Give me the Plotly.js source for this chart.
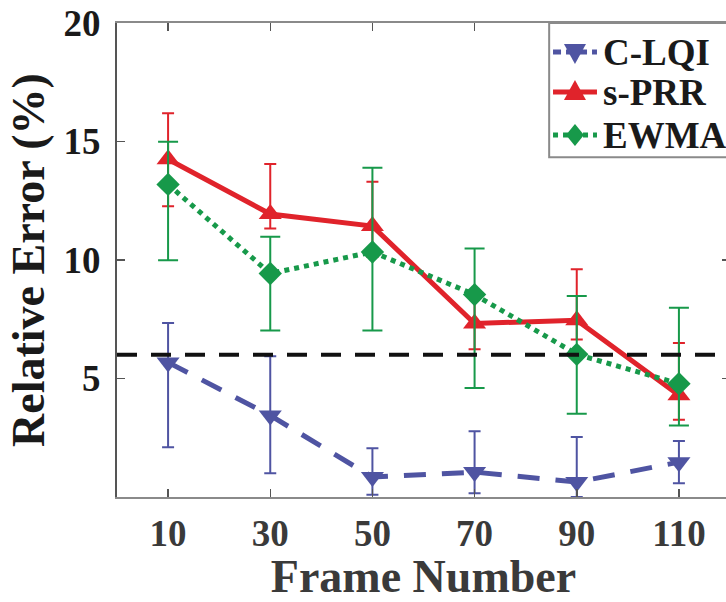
<!DOCTYPE html>
<html>
<head>
<meta charset="utf-8">
<script src="https://cdn.plot.ly/plotly-3.0.1.min.js"></script>
<style>
html,body{margin:0;padding:0;overflow:hidden;background:#fff;}
#chart{width:730px;height:602px;}
</style>
</head>
<body>
<div id="chart"></div>
<script>
// Data
const frames = [10, 30, 50, 70, 90, 110];
const tickLabels = ['10', '30', '50', '70', '90', '110'];
const seriesNames = ['C-LQI', 's-PRR', 'EWMA'];

const clqiMean = [5.68, 3.44, 0.84, 1.05, 0.63, 1.47];
const clqiUpper = [7.34, 5.94, 2.06, 2.77, 2.53, 2.36];
const clqiLower = [2.10, 1.00, 0.09, 0.16, 0.00, 0.58];

const sprrMean = [14.25, 11.94, 11.43, 7.32, 7.46, 4.29];
const sprrUpper = [16.19, 14.05, 13.30, 8.65, 9.61, 6.50];
const sprrLower = [12.27, 11.33, 10.13, 6.23, 6.65, 3.26];

const ewmaMean = [13.19, 9.43, 10.34, 8.54, 6.02, 4.78];
const ewmaUpper = [14.99, 10.98, 13.89, 10.49, 8.48, 7.99];
const ewmaLower = [9.99, 7.03, 7.03, 4.60, 3.51, 3.02];

const threshold = 6;

function plus(u, m) { return u.map((v, i) => v - m[i]); }
function minus(l, m) { return l.map((v, i) => m[i] - v); }

const FONT = 'Liberation Serif, Times New Roman, serif';
const BLUE = '#4f54a2', RED = '#e0232b', GREEN = '#17994a';

const traces = [
  {
    name: seriesNames[0], x: frames, y: clqiMean, type: 'scatter', mode: 'lines+markers',
    line: {color: BLUE, width: 5, dash: '22px,16px'},
    marker: {symbol: 'triangle-down', size: 20, color: BLUE},
    error_y: {type: 'data', symmetric: false, array: plus(clqiUpper, clqiMean),
              arrayminus: minus(clqiLower, clqiMean), color: BLUE, thickness: 2, width: 6}
  },
  {
    name: seriesNames[1], x: frames, y: sprrMean, type: 'scatter', mode: 'lines+markers',
    line: {color: RED, width: 5},
    marker: {symbol: 'triangle-up', size: 20, color: RED},
    error_y: {type: 'data', symmetric: false, array: plus(sprrUpper, sprrMean),
              arrayminus: minus(sprrLower, sprrMean), color: RED, thickness: 2, width: 6}
  },
  {
    name: seriesNames[2], x: frames, y: ewmaMean, type: 'scatter', mode: 'lines+markers',
    line: {color: GREEN, width: 5, dash: 'dot'},
    marker: {symbol: 'diamond', size: 18, color: GREEN},
    error_y: {type: 'data', symmetric: false, array: plus(ewmaUpper, ewmaMean),
              arrayminus: minus(ewmaLower, ewmaMean), color: GREEN, thickness: 2, width: 10}
  }
];

// Custom compact legend (box, sample lines, sample symbols, labels)
const legendRows = [0.9388, 0.8544, 0.7637];
const legendColors = [BLUE, RED, GREEN];
const legendDash = ['8px,5px', 'solid', 'dot'];
const legendPaths = [
  'M -11,8 L 11,8 L 0,-12 Z',
  'M -11,-8 L 11,-8 L 0,12 Z',
  'M 0,11 L 9,0 L 0,-11 L -9,0 Z'
];
const shapes = [{
  type: 'line', xref: 'paper', x0: 0, x1: 1, yref: 'y', y0: threshold, y1: threshold,
  line: {color: '#111', width: 4, dash: '20px,14px'}, layer: 'above'
}, {
  type: 'rect', xref: 'paper', yref: 'paper', x0: 0.705, x1: 1.05, y0: 0.717, y1: 1,
  fillcolor: '#fff', line: {color: '#8a8a8a', width: 2}, layer: 'above'
}];
const annotations = [];
legendRows.forEach((yy, i) => {
  shapes.push({
    type: 'line', xref: 'paper', yref: 'paper', x0: 0.7113, x1: 0.7830, y0: yy, y1: yy,
    line: {color: legendColors[i], width: 5, dash: legendDash[i]}, layer: 'above'
  });
  shapes.push({
    type: 'path', xref: 'paper', yref: 'paper', xsizemode: 'pixel', ysizemode: 'pixel',
    xanchor: 0.7471, yanchor: yy, path: legendPaths[i],
    fillcolor: legendColors[i], line: {width: 0}, layer: 'above'
  });
  annotations.push({
    xref: 'paper', yref: 'paper', x: 0.789, y: yy, xanchor: 'left', yanchor: 'middle',
    text: seriesNames[i], showarrow: false,
    font: {family: FONT, size: 37, color: '#1a1a1a', weight: 'bold'}
  });
});

const layout = {
  width: 730, height: 602,
  margin: {l: 117, r: 0, t: 23, b: 105},
  paper_bgcolor: '#fff', plot_bgcolor: '#fff',
  showlegend: false,
  xaxis: {
    range: [0, 120], tickvals: frames, ticktext: tickLabels,
    showgrid: false, zeroline: false,
    showline: true, linecolor: '#8a8a8a', linewidth: 2, mirror: 'ticks',
    ticks: 'inside', ticklen: 8, tickwidth: 1.5, tickcolor: '#555',
    tickfont: {family: FONT, size: 37, color: '#3a3a3a', weight: 'bold'},
    ticklabelstandoff: 3,
    title: {text: 'Frame Number', font: {family: FONT, size: 46, color: '#3a3a3a', weight: 'bold'}, standoff: 6}
  },
  yaxis: {
    range: [0, 20], tickvals: [5, 10, 15, 20],
    showgrid: false, zeroline: false,
    showline: true, linecolor: '#555', linewidth: 2, mirror: 'ticks',
    ticks: 'inside', ticklen: 8, tickwidth: 1.5, tickcolor: '#555',
    tickfont: {family: FONT, size: 37, color: '#1a1a1a', weight: 'bold'},
    ticklabelstandoff: 7,
    title: {text: 'Relative Error (%)', font: {family: FONT, size: 46, color: '#1a1a1a', weight: 'bold'}, standoff: 4}
  },
  shapes: shapes,
  annotations: annotations
};

Plotly.newPlot('chart', traces, layout, {displayModeBar: false, staticPlot: true});
</script>
</body>
</html>
